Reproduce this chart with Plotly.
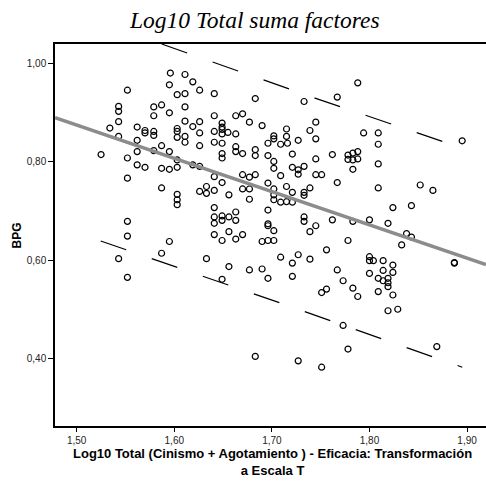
import plotly.graph_objects as go

# Scatter data
x_vals = [1.596,1.611,1.619,1.595,1.552,1.626,1.603,1.611,1.543,1.543,1.579,1.587,1.611,1.595,1.579,1.543,1.611,1.619,1.626,1.534,
          1.562,1.570,1.570,1.579,1.579,1.603,1.603,1.603,1.611,1.626,1.543,1.562,1.611,1.626,1.587,1.579,1.562,1.595,1.525,1.552,
          1.562,1.570,1.587,1.595,1.603,1.603,1.619,1.626,1.552,1.587,1.603,1.603,1.603,1.626,1.633,1.633,1.552,1.552,1.595,1.587,
          1.543,1.633,1.552,1.641,1.683,1.733,1.767,1.788,1.641,1.663,1.670,1.677,1.690,1.649,1.649,1.649,1.649,1.641,1.655,1.663,
          1.641,1.649,1.663,1.663,1.670,1.649,1.649,1.683,1.683,1.696,1.702,1.702,1.709,1.716,1.715,1.715,1.727,1.739,1.745,1.745,
          1.696,1.702,1.721,1.745,1.762,1.778,1.783,1.788,1.778,1.783,1.788,1.702,1.721,1.727,1.733,1.794,1.809,1.809,1.895,1.809,
          1.783,1.641,1.649,1.641,1.656,1.670,1.677,1.683,1.670,1.677,1.677,1.709,1.696,1.702,1.702,1.715,1.721,1.727,1.739,1.733,
          1.733,1.745,1.751,1.702,1.709,1.715,1.721,1.767,1.641,1.696,1.641,1.649,1.649,1.656,1.663,1.663,1.641,1.696,1.696,1.702,
          1.733,1.733,1.745,1.739,1.762,1.783,1.656,1.641,1.649,1.663,1.670,1.690,1.696,1.702,1.778,1.756,1.709,1.727,1.721,1.739,
          1.656,1.677,1.690,1.696,1.721,1.767,1.773,1.649,1.756,1.751,1.783,1.788,1.809,1.852,1.865,1.824,1.843,1.800,1.819,1.838,
          1.843,1.833,1.887,1.887,1.800,1.800,1.804,1.814,1.824,1.800,1.814,1.824,1.809,1.814,1.819,1.819,1.819,1.809,1.824,1.773,
          1.778,1.683,1.727,1.751,1.819,1.829,1.869]
y_vals = [0.981,0.978,0.963,0.957,0.946,0.946,0.937,0.939,0.913,0.903,0.912,0.916,0.912,0.900,0.894,0.882,0.883,0.872,0.882,0.869,
          0.871,0.864,0.859,0.862,0.854,0.868,0.862,0.850,0.852,0.859,0.852,0.844,0.840,0.833,0.833,0.823,0.821,0.821,0.815,0.808,
          0.794,0.789,0.787,0.785,0.804,0.789,0.794,0.791,0.767,0.747,0.734,0.723,0.713,0.740,0.750,0.736,0.679,0.649,0.638,0.614,
          0.603,0.603,0.565,0.939,0.929,0.923,0.932,0.961,0.894,0.894,0.898,0.881,0.874,0.879,0.871,0.866,0.857,0.862,0.860,0.857,
          0.840,0.838,0.831,0.821,0.817,0.817,0.808,0.825,0.813,0.838,0.853,0.847,0.836,0.838,0.867,0.852,0.844,0.864,0.881,0.847,
          0.813,0.801,0.816,0.806,0.815,0.814,0.818,0.821,0.805,0.804,0.806,0.787,0.789,0.784,0.791,0.859,0.859,0.836,0.843,0.796,
          0.785,0.770,0.758,0.742,0.733,0.774,0.769,0.774,0.745,0.745,0.724,0.772,0.757,0.745,0.733,0.750,0.738,0.775,0.747,0.738,
          0.732,0.774,0.774,0.723,0.718,0.719,0.718,0.758,0.707,0.702,0.688,0.690,0.681,0.688,0.698,0.681,0.675,0.674,0.670,0.660,
          0.688,0.679,0.670,0.658,0.682,0.679,0.658,0.652,0.640,0.643,0.652,0.638,0.640,0.640,0.640,0.621,0.606,0.611,0.594,0.602,
          0.587,0.580,0.582,0.563,0.567,0.580,0.558,0.561,0.541,0.534,0.543,0.526,0.747,0.753,0.742,0.707,0.711,0.682,0.675,0.654,
          0.647,0.631,0.595,0.594,0.607,0.599,0.599,0.599,0.590,0.573,0.579,0.575,0.563,0.558,0.563,0.554,0.546,0.536,0.529,0.467,
          0.419,0.404,0.395,0.382,0.497,0.500,0.424]

# Fit line and prediction interval
fit_x = [1.4778, 1.9194]
fit_y = [0.890, 0.591]
upper_x = [1.5871, 1.7442, 1.8951]
upper_y = [1.040, 0.930, 0.828]
lower_x = [1.5246, 1.7083, 1.8951]
lower_y = [0.639, 0.513, 0.382]

x_ticks = [1.5, 1.6, 1.7, 1.8, 1.9]
y_ticks = [0.4, 0.6, 0.8, 1.0]

title_text = "Log10 Total suma factores"
x_title_1 = "Log10 Total (Cinismo + Agotamiento ) - Eficacia: Transformación"
x_title_2 = "a Escala T"
y_title = "BPG"

fig = go.Figure()
fig.add_trace(go.Scatter(x=x_vals, y=y_vals, mode="markers",
                         marker=dict(symbol="circle-open", size=6, color="black",
                                     line=dict(width=1.2, color="black")),
                         showlegend=False, hoverinfo="skip"))
fig.add_trace(go.Scatter(x=upper_x, y=upper_y, mode="lines",
                         line=dict(color="black", width=1.2, dash="27px,27px"),
                         showlegend=False, hoverinfo="skip"))
fig.add_trace(go.Scatter(x=lower_x, y=lower_y, mode="lines",
                         line=dict(color="black", width=1.2, dash="27px,27px"),
                         showlegend=False, hoverinfo="skip"))
fig.add_trace(go.Scatter(x=fit_x, y=fit_y, mode="lines",
                         line=dict(color="rgb(140,140,140)", width=3.5),
                         showlegend=False, hoverinfo="skip"))

tickfont = dict(family="Liberation Sans, Arial, sans-serif", size=10, color="#222")
fig.update_layout(
    width=486, height=481,
    margin=dict(l=55, r=0, t=44, b=55),
    paper_bgcolor="white", plot_bgcolor="white",
    separators=",.",
    xaxis=dict(range=[1.4778, 1.9194], tickvals=x_ticks, tickformat=".2f",
               showgrid=False, zeroline=False, showline=True, mirror=True,
               linecolor="black", linewidth=1.5, ticks="outside", ticklen=4,
               tickcolor="black", tickwidth=1, tickfont=tickfont),
    yaxis=dict(range=[0.2623, 1.0401], tickvals=y_ticks, tickformat=".2f",
               showgrid=False, zeroline=False, showline=True, mirror=False,
               linecolor="black", linewidth=1.5, ticks="outside", ticklen=5,
               tickcolor="black", tickwidth=1, tickfont=tickfont),
    annotations=[
        dict(text="<i>" + title_text + "</i>", xref="paper", yref="paper",
             x=(254 - 55) / 431, y=(426 - 20) / 382, xanchor="center", yanchor="middle",
             showarrow=False, font=dict(family="Liberation Serif, serif", size=23.5, color="black")),
        dict(text="<b>" + x_title_1 + "<br>" + x_title_2 + "</b>", xref="paper", yref="paper",
             x=(272 - 55) / 431, y=(426 - 462) / 382, xanchor="center", yanchor="middle",
             showarrow=False, font=dict(family="Liberation Sans, Arial, sans-serif", size=13, color="black")),
        dict(text="<b>" + y_title + "</b>", xref="paper", yref="paper",
             x=(16 - 55) / 431, y=(426 - 235.5) / 382, xanchor="center", yanchor="middle",
             textangle=-90, showarrow=False,
             font=dict(family="Liberation Sans, Arial, sans-serif", size=12, color="black")),
    ],
)

fig.write_html("out.html")
